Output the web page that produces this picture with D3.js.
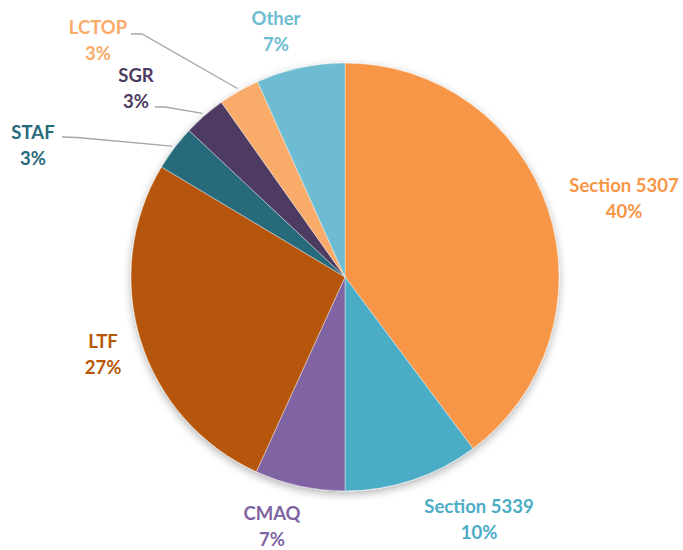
<!DOCTYPE html>
<html>
<head>
<meta charset="utf-8">
<script src="https://cdn.jsdelivr.net/npm/d3@7"></script>
<style>
  html, body { margin: 0; padding: 0; background: #ffffff; }
  svg { display: block; }
  text { font-family: Lato, "Open Sans", sans-serif; font-weight: 700; }
</style>
</head>
<body>
<svg id="chart" width="683" height="550"></svg>
<script>
// ---- data ----
const categories = ["Section 5307", "Section 5339", "CMAQ", "LTF", "STAF", "SGR", "LCTOP", "Other"];
const values = [39.8, 10.2, 6.8, 26.8, 3.4, 3.2, 3.1, 6.7];
const percentLabels = ["40%", "10%", "7%", "27%", "3%", "3%", "3%", "7%"];
const colors = ["#F79646", "#4BACC6", "#8064A2", "#B65708", "#276A7C", "#4D3B62", "#F9AB6B", "#6EBCD1"];

// ---- layout (label placement, not data) ----
const width = 683, height = 550;
const cx = 345, cy = 277, R = 214;
const labelLayout = [
  { x: 624, y: 192, leader: null },
  { x: 479, y: 513, leader: null },
  { x: 272, y: 520, leader: null },
  { x: 103, y: 348, leader: null },
  { x: 33,  y: 139, leader: { sx: 62,  sy: 137, ex: 77,  ey: 137.5 } },
  { x: 136, y: 82,  leader: { sx: 155, sy: 107, ex: 165, ey: 107 } },
  { x: 98,  y: 34,  leader: { sx: 131, sy: 34,  ex: 142, ey: 34 } },
  { x: 276, y: 25,  leader: null }
];
const lineGap = 25.5;

const svg = d3.select("#chart");
const defs = svg.append("defs");
const f = defs.append("filter").attr("id", "shadow")
  .attr("x", "-20%").attr("y", "-20%").attr("width", "140%").attr("height", "140%");
f.append("feDropShadow").attr("dx", 0).attr("dy", 3).attr("stdDeviation", 4)
  .attr("flood-color", "#000").attr("flood-opacity", 0.3);

const data = categories.map((c, i) => ({ name: c, value: values[i], pct: percentLabels[i], color: colors[i], layout: labelLayout[i] }));

const pie = d3.pie().value(d => d.value).sort(null);
const arcs = pie(data);
const arc = d3.arc().innerRadius(0).outerRadius(R);
const leaderArc = d3.arc().innerRadius(R + 3).outerRadius(R + 3);

const g = svg.append("g").attr("transform", `translate(${cx},${cy})`);
g.append("g").attr("filter", "url(#shadow)")
  .selectAll("path").data(arcs).join("path")
  .attr("d", arc)
  .attr("fill", d => d.data.color)
  .attr("stroke", "#ffffff")
  .attr("stroke-width", 0.4);

// leader lines
arcs.forEach(a => {
  const L = a.data.layout.leader;
  if (!L) return;
  const [px, py] = leaderArc.centroid(a);
  svg.append("polyline")
    .attr("points", [[L.sx, L.sy], [L.ex, L.ey], [px + cx, py + cy]].map(p => p.join(",")).join(" "))
    .attr("fill", "none")
    .attr("stroke", "#A6A6A6")
    .attr("stroke-width", 1.3);
});

// labels
const lbl = svg.append("g").selectAll("text").data(arcs).join("text")
  .attr("text-anchor", "middle")
  .attr("font-size", 18.5)
  .attr("fill", d => d.data.color)
  .attr("x", d => d.data.layout.x)
  .attr("y", d => d.data.layout.y);
lbl.append("tspan").attr("x", d => d.data.layout.x).text(d => d.data.name);
lbl.append("tspan").attr("x", d => d.data.layout.x).attr("dy", lineGap).text(d => d.data.pct);
</script>
</body>
</html>
